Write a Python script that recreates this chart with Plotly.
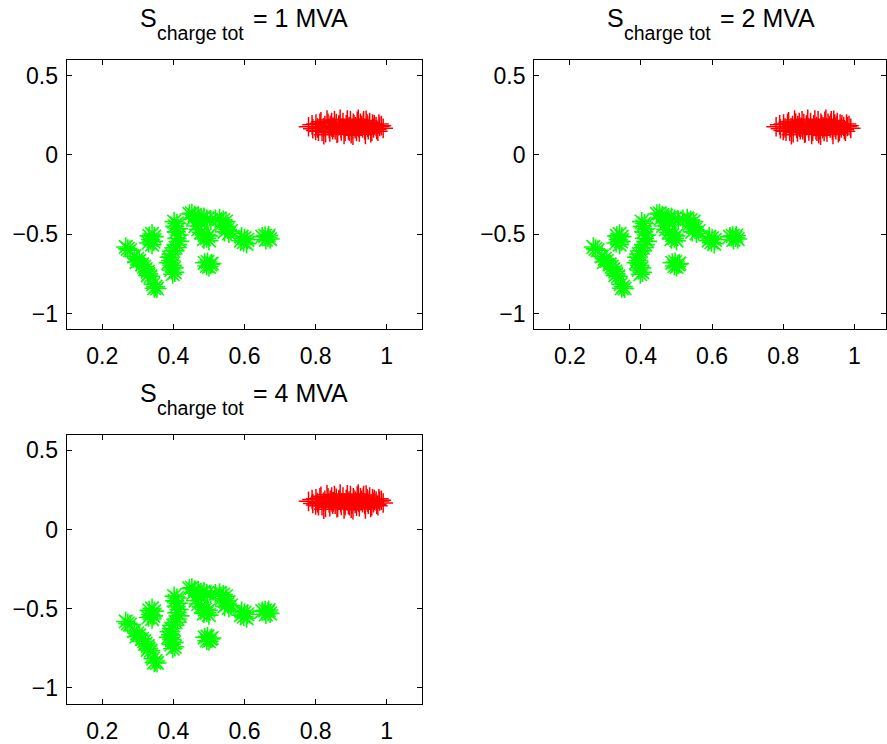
import plotly.graph_objects as go

W, H = 887, 744

# ---------------- data ----------------
red_x = [0.780, 0.792, 0.801, 0.808, 0.815, 0.822, 0.828, 0.835, 0.841, 0.848,
         0.853, 0.860, 0.866, 0.871, 0.877, 0.883, 0.889, 0.894, 0.900, 0.906,
         0.911, 0.917, 0.923, 0.929, 0.934, 0.940, 0.946, 0.952, 0.958, 0.965,
         0.972, 0.980, 0.990, 0.805, 0.818, 0.832, 0.846, 0.858, 0.872, 0.886,
         0.898, 0.912, 0.926, 0.938, 0.951, 0.963, 0.975, 0.812, 0.826, 0.840,
         0.855, 0.869, 0.881, 0.895, 0.908, 0.921, 0.935, 0.948, 0.960, 0.970,
         0.800, 0.850, 0.880, 0.915, 0.945, 0.985, 0.823, 0.865, 0.902, 0.932,
         0.790, 0.838, 0.862, 0.892, 0.920, 0.955, 0.978, 0.845, 0.905, 0.942]
red_y = [0.178, 0.165, 0.195, 0.150, 0.210, 0.172, 0.140, 0.200, 0.185, 0.160,
         0.215, 0.138, 0.190, 0.170, 0.205, 0.150, 0.220, 0.180, 0.135, 0.200,
         0.165, 0.212, 0.145, 0.185, 0.200, 0.130, 0.175, 0.205, 0.150, 0.190,
         0.160, 0.180, 0.168, 0.170, 0.150, 0.220, 0.175, 0.198, 0.152, 0.190,
         0.215, 0.178, 0.200, 0.158, 0.185, 0.170, 0.150, 0.200, 0.185, 0.145,
         0.160, 0.225, 0.165, 0.150, 0.190, 0.172, 0.215, 0.160, 0.195, 0.180,
         0.155, 0.175, 0.130, 0.148, 0.195, 0.185, 0.128, 0.185, 0.160, 0.170,
         0.190, 0.168, 0.142, 0.158, 0.225, 0.140, 0.195, 0.205, 0.125, 0.218]

green_x = [0.266, 0.272, 0.278, 0.290, 0.298, 0.304, 0.296, 0.312, 0.318, 0.322,
           0.328, 0.330, 0.336, 0.328, 0.343, 0.350, 0.354, 0.346,
           0.332, 0.340, 0.346, 0.336, 0.344, 0.330, 0.340,
           0.402, 0.410, 0.404, 0.414, 0.408, 0.416, 0.410, 0.418, 0.412, 0.406,
           0.400, 0.394, 0.388, 0.392, 0.386, 0.396, 0.402, 0.394, 0.404, 0.398,
           0.445, 0.452, 0.460, 0.470, 0.478, 0.486, 0.494, 0.468, 0.456, 0.480,
           0.505, 0.518,
           0.462, 0.470, 0.478, 0.488, 0.494, 0.500, 0.486, 0.498,
           0.530, 0.540, 0.548, 0.536, 0.546, 0.552, 0.544, 0.556, 0.562,
           0.592, 0.600, 0.608, 0.598, 0.606, 0.590,
           0.650, 0.658, 0.666, 0.672, 0.660, 0.668,
           0.488, 0.496, 0.504, 0.494, 0.500, 0.508]
green_y = [-0.580, -0.592, -0.600, -0.640, -0.655, -0.668, -0.675, -0.690, -0.705, -0.720,
           -0.735, -0.750, -0.765, -0.760, -0.815, -0.830, -0.842, -0.840,
           -0.510, -0.498, -0.515, -0.535, -0.545, -0.555, -0.565,
           -0.420, -0.432, -0.450, -0.465, -0.485, -0.505, -0.525, -0.545, -0.565, -0.585,
           -0.605, -0.625, -0.645, -0.665, -0.680, -0.695, -0.712, -0.725, -0.740, -0.752,
           -0.372, -0.368, -0.380, -0.385, -0.398, -0.392, -0.405, -0.410, -0.400, -0.425,
           -0.410, -0.405,
           -0.448, -0.470, -0.488, -0.505, -0.525, -0.540, -0.530, -0.510,
           -0.400, -0.410, -0.420, -0.435, -0.450, -0.470, -0.485, -0.495, -0.480,
           -0.515, -0.525, -0.535, -0.550, -0.560, -0.540,
           -0.515, -0.510, -0.520, -0.530, -0.535, -0.508,
           -0.680, -0.675, -0.690, -0.700, -0.705, -0.685]

titles_mva = ["1", "2", "4"]
x_tickvals = [0.2, 0.4, 0.6, 0.8, 1.0]
x_ticktext = ["0.2", "0.4", "0.6", "0.8", "1"]
y_tickvals = [0.5, 0, -0.5, -1]
y_ticktext = ["0.5", "0", "\u22120.5", "\u22121"]

# ---------------- layout helpers (window pixels) ----------------
def px_x(p):
    return p / W

def px_y(p):
    return 1 - p / H

# pixel boxes (left, top, right, bottom)
boxes = [(66.7, 60.0, 422.3, 330.3),
         (534.3, 60.0, 886.0, 330.3),
         (66.7, 435.7, 422.3, 705.7)]
AXW = 355.6
xranges = [[0.1, 1.1], [0.1, 0.1 + (886.0 - 534.3) / AXW], [0.1, 1.1]]

FONT = "Liberation Sans, Arial, sans-serif"
TICKSIZE = 23
TSIZE = 25
SUBSIZE = 19.5

fig = go.Figure()
layout = dict(width=W, height=H, margin=dict(l=0, r=0, t=0, b=0),
              paper_bgcolor="white", plot_bgcolor="white", showlegend=False,
              font=dict(family=FONT, color="black", size=TICKSIZE))
annotations = []

for i, (l, t, r, b) in enumerate(boxes):
    n = "" if i == 0 else str(i + 1)
    xa, ya = "x" + n, "y" + n
    fig.add_trace(go.Scatter(x=red_x, y=red_y, mode="markers", xaxis=xa, yaxis=ya,
                             marker=dict(symbol="cross-thin-open", size=14,
                                         color="red", line=dict(color="red", width=1.5)),
                             hoverinfo="skip"))
    fig.add_trace(go.Scatter(x=green_x, y=green_y, mode="markers", xaxis=xa, yaxis=ya,
                             marker=dict(symbol="asterisk-open", size=16,
                                         color="#00ff00", line=dict(color="#00ff00", width=1.6)),
                             hoverinfo="skip"))
    axcommon = dict(showline=True, linecolor="black", linewidth=1.3, mirror="ticks",
                    ticks="inside", ticklen=5, tickcolor="black", tickwidth=1,
                    showgrid=False, zeroline=False,
                    tickfont=dict(family=FONT, size=TICKSIZE, color="black"))
    layout["xaxis" + n] = dict(domain=[px_x(l), px_x(r)], range=xranges[i],
                               anchor=ya, tickvals=x_tickvals, ticktext=x_ticktext,
                               ticklabelstandoff=6, **axcommon)
    layout["yaxis" + n] = dict(domain=[px_y(b), px_y(t)], range=[-1.1, 0.6],
                               anchor=xa, tickvals=y_tickvals, ticktext=y_ticktext,
                               ticklabelstandoff=3, **axcommon)
    cx = l + AXW / 2
    base = t - 32  # baseline of the main title text
    annotations.append(dict(text="S", x=px_x(cx - 107), y=px_y(base), xref="paper", yref="paper",
                            xanchor="left", yanchor="bottom", showarrow=False,
                            yshift=-(0.212 * TSIZE + 1),
                            font=dict(family=FONT, size=TSIZE, color="black")))
    annotations.append(dict(text="charge tot", x=px_x(cx - 90), y=px_y(base + 13), xref="paper", yref="paper",
                            xanchor="left", yanchor="bottom", showarrow=False,
                            yshift=-(0.212 * SUBSIZE + 1),
                            font=dict(family=FONT, size=SUBSIZE, color="black")))
    annotations.append(dict(text="= " + titles_mva[i] + " MVA", x=px_x(cx + 6), y=px_y(base), xref="paper", yref="paper",
                            xanchor="left", yanchor="bottom", showarrow=False,
                            yshift=-(0.212 * TSIZE + 1),
                            font=dict(family=FONT, size=TSIZE, color="black")))

layout["annotations"] = annotations
fig.update_layout(**layout)
fig.write_html("out.html", config={"displayModeBar": False},
               post_script="document.body.style.margin='0';")
